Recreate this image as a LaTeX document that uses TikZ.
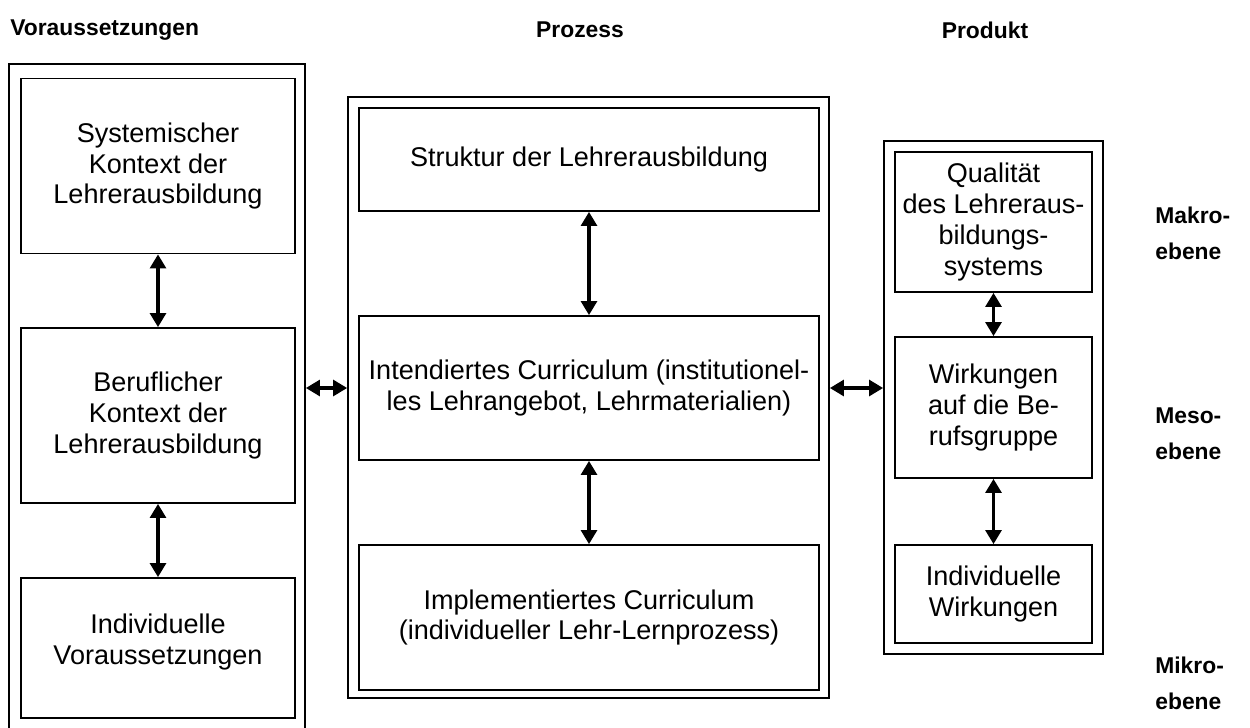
\documentclass[tikz,border=0pt]{standalone}
\usepackage{fontspec}
\setmainfont{Liberation Sans}
\usepackage{tikz}
\usetikzlibrary{arrows.meta,positioning}
\tikzset{
  frame/.style  = {rectangle, draw=black, line width=1pt, inner sep=0pt},
  inbox/.style  = {rectangle, draw=black, line width=1pt, align=center,
                   inner sep=0pt, font=\fontsize{15.4}{17.6}\selectfont},
  head/.style   = {font=\fontsize{13}{16}\selectfont\bfseries, inner sep=0pt},
  level/.style  = {font=\fontsize{13}{20.5}\selectfont\bfseries, align=left,
                   anchor=west, inner sep=0pt},
  arr/.style    = {{Triangle[width=9pt,length=8pt]}-{Triangle[width=9pt,length=8pt]},
                   line width=1.9pt, draw=black},
}

\begin{document}
\begin{tikzpicture}[x=0.02cm, y=-0.02cm]
\useasboundingbox (0,0) rectangle (1250,727);

%% ── Headings ──────────────────────────────────────────────
\node[head, anchor=west] (hvor)  at (10,30)  {Voraussetzungen};
\node[head]              (hproz) at (580,30) {Prozess};
\node[head]              (hprod) at (985,30) {Produkt};

%% ── Frames ────────────────────────────────────────────────
\node[frame, minimum width=5.92cm, minimum height=14.2cm] (vorframe)  at (157,419) {};
\node[frame, minimum width=9.62cm, minimum height=12.02cm] (prozframe) at (588.5,397.5) {};
\node[frame, minimum width=4.38cm, minimum height=10.26cm] (prodframe) at (993.5,397.5) {};

%% ── Voraussetzungen ───────────────────────────────────────
\node[inbox, minimum width=5.48cm, minimum height=3.5cm] (sys)   at (158,166)
  {Systemischer\\Kontext der\\Lehrerausbildung};
\node[inbox, minimum width=5.48cm, minimum height=3.5cm] (beruf) at (158,415.5)
  {Beruflicher\\Kontext der\\Lehrerausbildung};
\node[inbox, minimum width=5.48cm, minimum height=2.8cm, text height=30pt, text depth=11pt] (indv)  at (158,648)
  {Individuelle\\Voraussetzungen};

%% ── Prozess ───────────────────────────────────────────────
\node[inbox, minimum width=9.2cm, minimum height=2.06cm] (struktur) at (589,159.5)
  {Struktur der Lehrerausbildung};
\node[inbox, minimum width=9.2cm, minimum height=2.88cm] (intend)   at (589,388)
  {Intendiertes Curriculum (institutionel-\\les Lehrangebot, Lehrmaterialien)};
\node[inbox, minimum width=9.2cm, minimum height=2.9cm] (impl)     at (589,617.5)
  {Implementiertes Curriculum\\(individueller Lehr-Lernprozess)};

%% ── Produkt ───────────────────────────────────────────────
\node[inbox, minimum width=3.94cm, minimum height=2.8cm] (qual) at (993.5,222)
  {Qualität\\des Lehreraus-\\bildungs-\\systems};
\node[inbox, minimum width=3.94cm, minimum height=2.82cm] (wirk) at (993.5,407.5)
  {Wirkungen\\auf die Be-\\rufsgruppe};
\node[inbox, minimum width=3.94cm, minimum height=1.96cm] (indw) at (993.5,594)
  {Individuelle\\Wirkungen};

%% ── Ebenen ────────────────────────────────────────────────
\node[level] (makro) at (1155,233) {Makro-\\ebene};
\node[level] (meso)  at (1155,434) {Meso-\\ebene};
\node[level] (mikro) at (1155,683) {Mikro-\\ebene};

%% ── Arrows ────────────────────────────────────────────────
\draw[arr] (sys)      -- (beruf);
\draw[arr] (beruf)    -- (indv);
\draw[arr] (struktur) -- (intend);
\draw[arr] (intend)   -- (impl);
\draw[arr] (qual)     -- (wirk);
\draw[arr] (wirk)     -- (indw);
\draw[arr] (vorframe.east |- intend) -- (prozframe.west |- intend);
\draw[arr] (prozframe.east |- intend) -- (prodframe.west |- intend);

\end{tikzpicture}
\end{document}
